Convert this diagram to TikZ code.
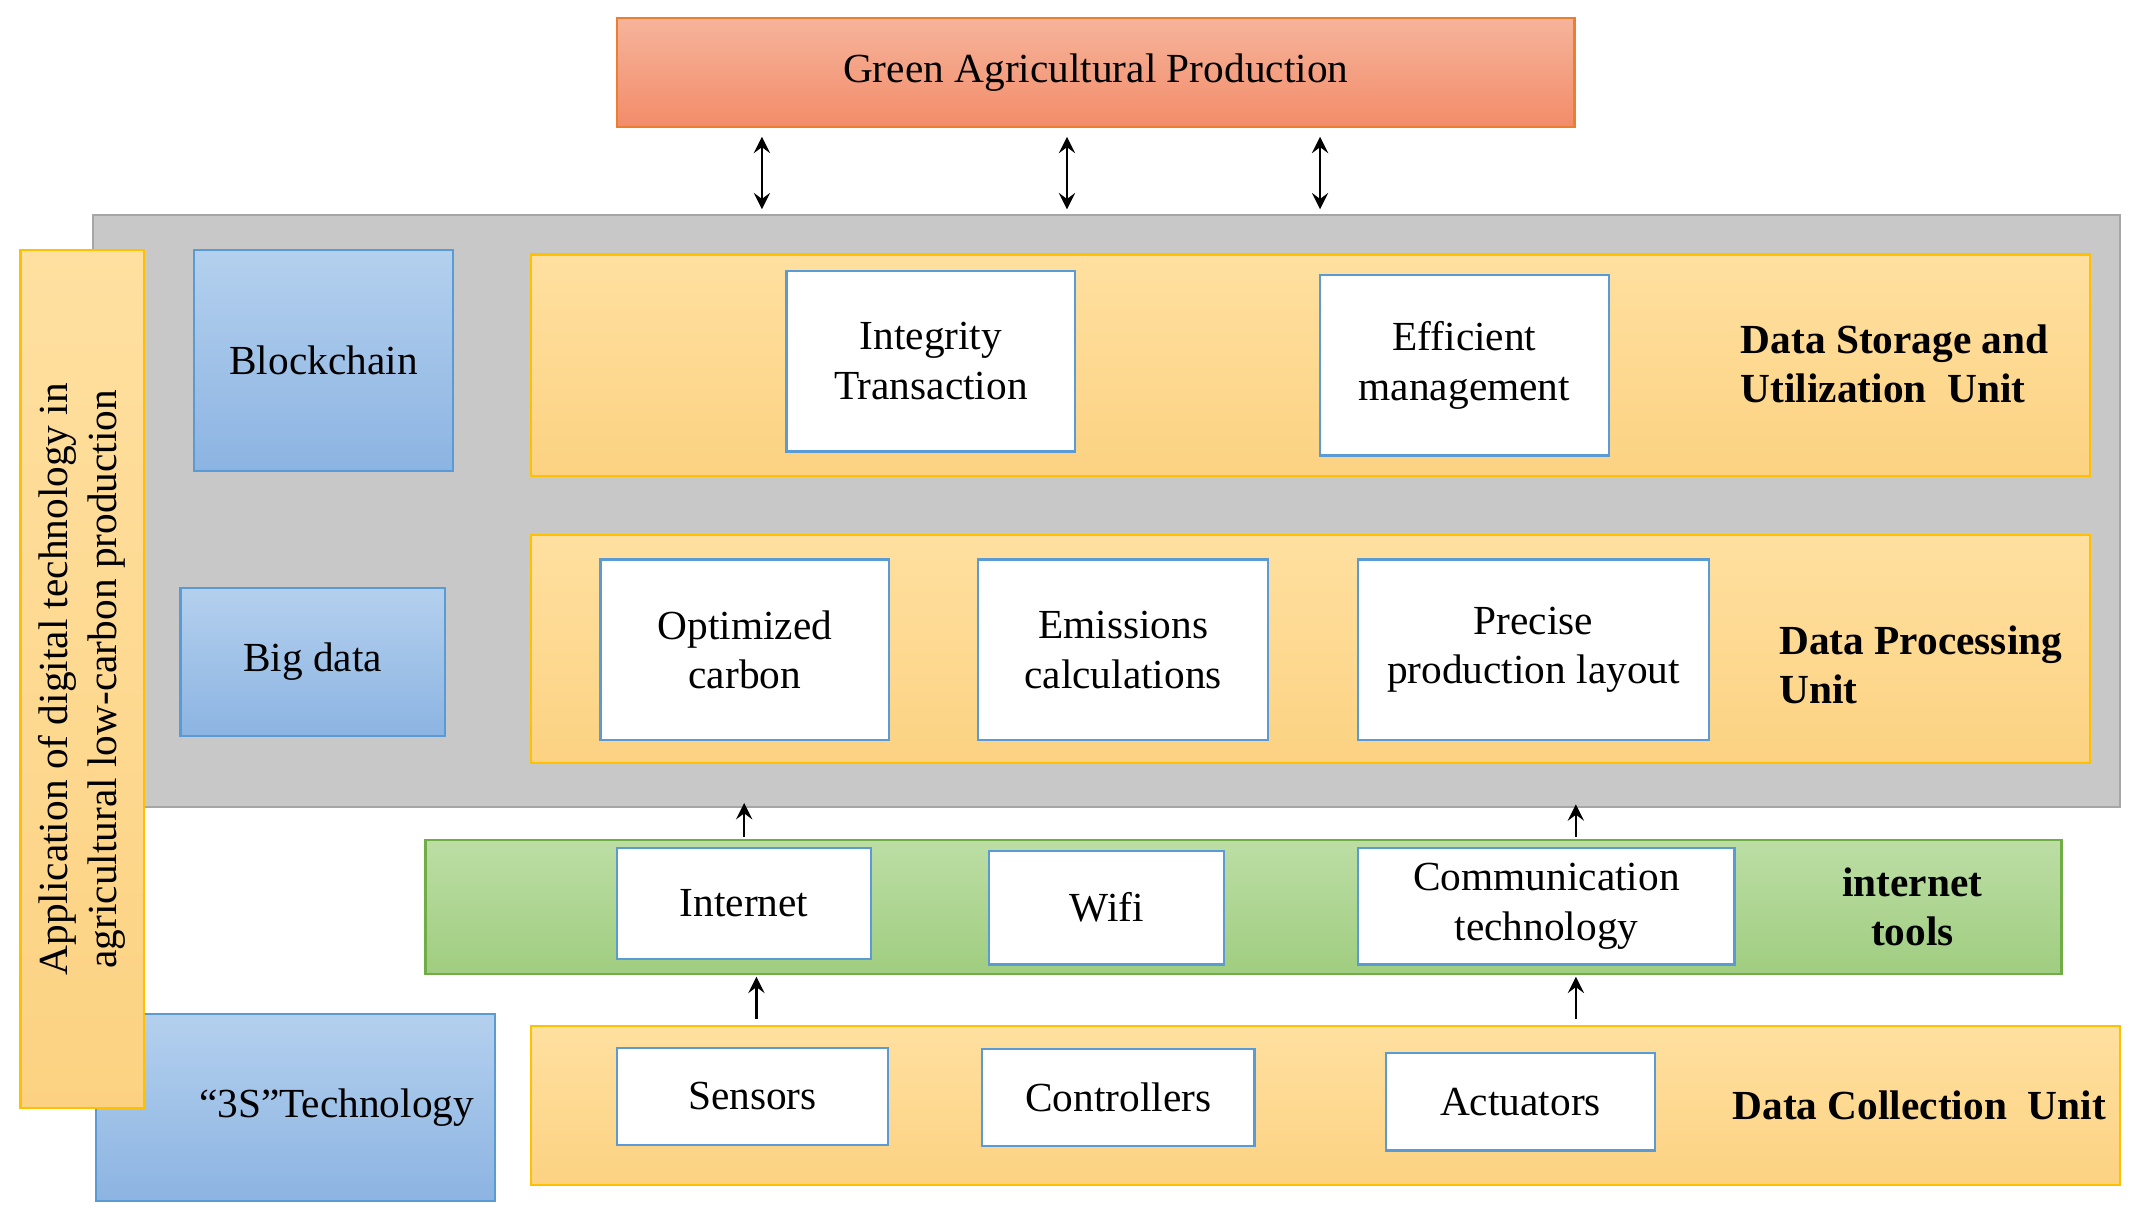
\documentclass[tikz,border=0pt]{standalone}
\usepackage{fontspec}
\setmainfont{Liberation Serif}
\begin{document}
\begin{tikzpicture}[x=0.1mm,y=-0.1mm,
 every node/.style={font=\fontsize{8.6}{10.3}\selectfont},
 base/.style={inner sep=0pt,outer sep=0pt,line width=0.45pt,align=center},
 wbox/.style={base,draw=blue!50!cyan!70!black!80,fill=white,draw={rgb,255:red,91;green,155;blue,213}},
 obox/.style={base,draw={rgb,255:red,255;green,192;blue,0},top color={rgb,255:red,255;green,224;blue,160},bottom color={rgb,255:red,252;green,210;blue,130}},
 bbox/.style={base,draw={rgb,255:red,91;green,155;blue,213},top color={rgb,255:red,180;green,208;blue,238},bottom color={rgb,255:red,140;green,180;blue,226}},
 gbox/.style={base,draw={rgb,255:red,112;green,173;blue,71},top color={rgb,255:red,188;green,222;blue,165},bottom color={rgb,255:red,160;green,205;blue,128}},
 lab/.style={font=\fontsize{8.6}{10.3}\selectfont\bfseries,align=left,inner sep=0pt},
 arr/.style={-stealth,line width=0.5pt},
 darr/.style={stealth-stealth,line width=0.5pt}]
\useasboundingbox (0,0) rectangle (1560,885);
% green top
\node[base,draw={rgb,255:red,237;green,125;blue,49},top color={rgb,255:red,246;green,180;blue,155},bottom color={rgb,255:red,242;green,140;blue,105},minimum width=70mm,minimum height=8mm] (gap) at (801,53) {Green Agricultural Production};
% gray panel
\node[base,draw={rgb,255:red,166;green,166;blue,166},fill={rgb,255:red,200;green,200;blue,200},minimum width=148.2mm,minimum height=43.3mm] (panel) at (809,373.5) {};
\coordinate (a1t) at (557,100); \coordinate (a1b) at (557,153);
\coordinate (a2t) at (780,100); \coordinate (a2b) at (780,153);
\coordinate (a3t) at (965,100); \coordinate (a3b) at (965,153);
\draw[darr] (a1t) -- (a1b); \draw[darr] (a2t) -- (a2b); \draw[darr] (a3t) -- (a3b);
% left blue
\node[bbox,minimum width=18.9mm,minimum height=16.1mm] (bc) at (236.5,263.5) {Blockchain};
\node[bbox,minimum width=19.3mm,minimum height=10.8mm] (bd) at (228.5,484) {Big data};
\node[bbox,minimum width=29.2mm,minimum height=13.7mm] (s3) at (216,809.5) {\hspace*{6mm}``3S''Technology};
% vertical label
\node[obox,minimum width=62.7mm,minimum height=9mm,rotate=90] (app) at (60,496.5) {Application of digital technology in\\agricultural low-carbon production};
% storage row
\node[obox,minimum width=114mm,minimum height=16.2mm] (st) at (958,267) {};
\node[wbox,minimum width=21.1mm,minimum height=13.2mm] (it) at (680.5,264) {Integrity\\Transaction};
\node[wbox,minimum width=21.1mm,minimum height=13.2mm] (em) at (1070.5,267) {Efficient\\management};
\node[lab] (stl) at (1385,266) {Data Storage and\\Utilization\ \ Unit};
% processing row
\node[obox,minimum width=114mm,minimum height=16.7mm] (pr) at (958,474.5) {};
\node[wbox,minimum width=21.1mm,minimum height=13.2mm] (oc) at (544.5,475) {Optimized\\carbon};
\node[wbox,minimum width=21.2mm,minimum height=13.2mm] (ec) at (821,475) {Emissions\\calculations};
\node[wbox,minimum width=25.6mm,minimum height=13.2mm] (pp) at (1121,475) {Precise\\production layout};
\node[lab,anchor=west] (prl) at (1300,486) {Data Processing\\Unit};
% internet row
\node[gbox,minimum width=119.6mm,minimum height=9.8mm] (gr) at (909,663) {};
\node[wbox,minimum width=18.6mm,minimum height=8.1mm] (in) at (544,660.5) {Internet};
\node[wbox,minimum width=17.2mm,minimum height=8.3mm] (wf) at (809,663.5) {Wifi};
\node[wbox,minimum width=27.5mm,minimum height=8.5mm] (ct) at (1130.5,662.5) {Communication\\technology};
\node[lab,align=center] (grl) at (1398,663) {internet\\tools};
% collection row
\node[obox,minimum width=116.2mm,minimum height=11.6mm] (co) at (969,808) {};
\node[wbox,minimum width=19.8mm,minimum height=7.1mm] (se) at (550,801.5) {Sensors};
\node[wbox,minimum width=19.9mm,minimum height=7.1mm] (cn) at (817.5,802.5) {Controllers};
\node[wbox,minimum width=19.7mm,minimum height=7.1mm] (ac) at (1111.5,805.5) {Actuators};
\node[lab] (col) at (1403,808) {Data Collection\ \ Unit};
% up arrows
\coordinate (u1) at (544,612); \coordinate (u1e) at (544,587);
\coordinate (u2) at (1152,612); \coordinate (u2e) at (1152,588);
\coordinate (u3) at (553,745); \coordinate (u3e) at (553,714);
\coordinate (u4) at (1152,745); \coordinate (u4e) at (1152,714);
\draw[arr] (u1) -- (u1e); \draw[arr] (u2) -- (u2e);
\draw[arr] (u3) -- (u3e); \draw[arr] (u4) -- (u4e);
\end{tikzpicture}
\end{document}
